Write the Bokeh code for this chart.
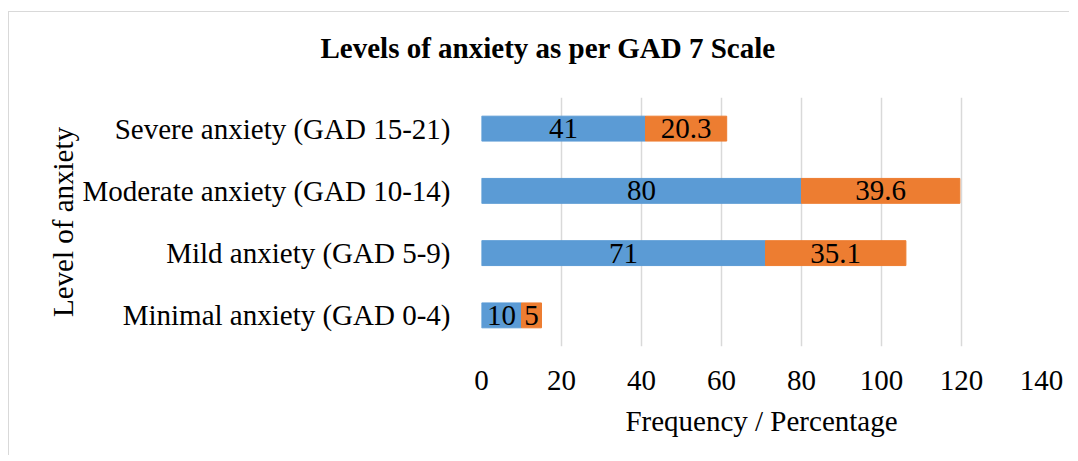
from bokeh.plotting import figure
from bokeh.models import ColumnDataSource, FactorRange, Range1d, FixedTicker, LabelSet, Title
from bokeh.embed import file_html
from bokeh.resources import INLINE

# ---- data ----
categories = ["Minimal anxiety (GAD 0-4)", "Mild anxiety (GAD 5-9)",
              "Moderate anxiety (GAD 10-14)", "Severe anxiety (GAD 15-21)"]
frequency = [10, 71, 80, 41]
percentage = [5, 35.1, 39.6, 20.3]
x_ticks = [0, 20, 40, 60, 80, 100, 120, 140]
title_text = "Levels of anxiety as per GAD 7 Scale"
x_label = "Frequency / Percentage"
y_label = "Level of anxiety"

FONT = "Liberation Serif"
FS = "29px"
BLUE = "#5B9BD5"
ORANGE = "#ED7D31"
GRID = "#D9D9D9"

source = ColumnDataSource(dict(
    cat=categories,
    freq=frequency,
    pct=percentage,
    end=[f + q for f, q in zip(frequency, percentage)],
    fmid=[f / 2 for f in frequency],
    pmid=[f + q / 2 for f, q in zip(frequency, percentage)],
    flab=[f"{v:g}" for v in frequency],
    plab=[f"{v:g}" for v in percentage],
))

p = figure(
    width=1061, height=444,
    y_range=FactorRange(*categories),
    x_range=Range1d(0, 140),
    output_backend="svg", toolbar_location=None,
    min_border_left=472, min_border_right=29,
    min_border_top=85, min_border_bottom=110,
)
p.styles = {
    "position": "absolute",
    "left": "8px",
    "top": "11px",
    "border-top": "1px solid #D9D9D9",
    "border-left": "1px solid #D9D9D9",
}
p.outline_line_color = None
p.background_fill_color = "white"
p.border_fill_color = "white"

p.hbar(y="cat", left=0, right="freq", height=0.4, color=BLUE, source=source)
p.hbar(y="cat", left="freq", right="end", height=0.4, color=ORANGE, source=source)

for xcol, tcol in (("fmid", "flab"), ("pmid", "plab")):
    p.add_layout(LabelSet(
        x=xcol, y="cat", text=tcol, source=source,
        text_align="center", text_baseline="middle",
        text_font=FONT, text_font_size=FS, text_color="black",
    ))

# grid
p.xgrid.ticker = FixedTicker(ticks=x_ticks)
p.xgrid.grid_line_color = GRID
p.xgrid.grid_line_width = 1.5
p.ygrid.grid_line_color = None

# axes
p.xaxis.ticker = FixedTicker(ticks=x_ticks)
for ax in (p.xaxis[0], p.yaxis[0]):
    ax.axis_line_color = None
    ax.major_tick_line_color = None
    ax.minor_tick_line_color = None
    ax.major_label_text_font = FONT
    ax.major_label_text_font_size = FS
    ax.major_label_text_color = "black"
    ax.axis_label_text_font = FONT
    ax.axis_label_text_font_size = FS
    ax.axis_label_text_font_style = "normal"
    ax.axis_label_text_color = "black"

p.xaxis.axis_label = x_label
p.yaxis.axis_label = y_label
p.yaxis.major_label_standoff = 25
p.xaxis.major_label_standoff = 18
p.xaxis.axis_label_standoff = 12
p.yaxis.axis_label_standoff = 0

# spacer panel between plot area and title (blank), then the title above it
p.add_layout(Title(
    text=" ", standoff=0,
    text_font=FONT, text_font_size=FS, text_color="white",
), "above")
p.add_layout(Title(
    text=title_text, align="left", offset=-161, standoff=0,
    text_font=FONT, text_font_size=FS, text_font_style="bold", text_color="black",
), "above")

open("out.html", "w").write(file_html(p, INLINE))
